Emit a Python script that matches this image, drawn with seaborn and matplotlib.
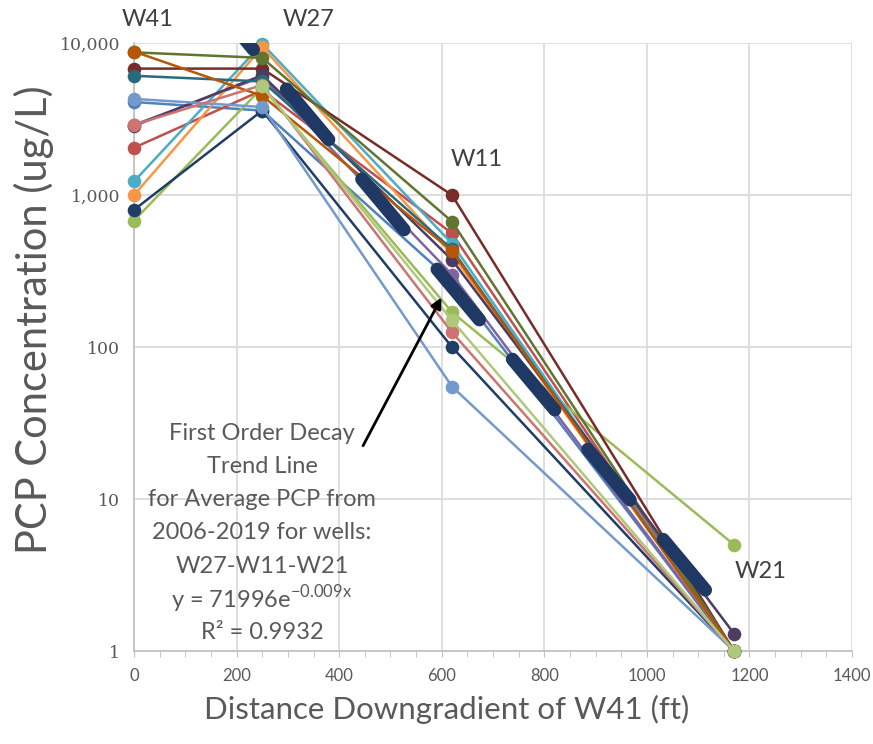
import numpy as np
import pandas as pd
import matplotlib
matplotlib.use('Agg')
import matplotlib.pyplot as plt
import seaborn as sns

# well positions (ft downgradient of W41)
well_x = [0, 250, 620, 1170]
well_names = ['W41', 'W27', 'W11', 'W21']

# PCP (ug/L) per series at W41, W27, W11, W21
series_names = ['s01', 's02', 's03', 's04', 's05', 's06', 's07', 's08',
                's09', 's10', 's11', 's12', 's13', 's14', 's15']
series_colors = ['#4F81BD', '#C0504D', '#9BBB59', '#8064A2', '#4BACC6',
                 '#F79646', '#1F3D66', '#772C2A', '#5F7530', '#4D3B62',
                 '#276A7C', '#B65708', '#729ACA', '#CD7371', '#AFC97A']
s01 = [4100, 3600, 270, 1]
s02 = [2050, 4900, 560, 1]
s03 = [680, 5100, 170, 5]
s04 = [2900, 6000, 300, 1]
s05 = [1230, 9900, 480, 1]
s06 = [1000, 9400, 410, 1]
s07 = [800, 3600, 100, 1]
s08 = [6800, 6800, 1000, 1]
s09 = [8700, 8000, 670, 1]
s10 = [2850, 6150, 375, 1.3]
s11 = [6100, 5600, 440, 1]
s12 = [8800, 4500, 430, 1]
s13 = [4300, 3800, 55, 1]
s14 = [2900, 5300, 125, 1]
s15 = [np.nan, 5200, 150, 1]
series_vals = [s01, s02, s03, s04, s05, s06, s07, s08,
               s09, s10, s11, s12, s13, s14, s15]

# first order decay trend line end points
trend_x = [145, 1115]
trend_y = [20500, 2.5]

# arrow from text to trend line
arrow_from = (444, 21.6)
arrow_to = (602, 220)

note_lines = ['First Order Decay', 'Trend Line', 'for Average PCP from',
              '2006-2019 for wells:', 'W27-W11-W21',
              'y = 71996e$^{\\mathrm{-0.009x}}$', 'R² = 0.9932']

rows = []
for name, vals in zip(series_names, series_vals):
    for x, v in zip(well_x, vals):
        rows.append({'series': name, 'dist': x, 'pcp': v})
df = pd.DataFrame(rows).dropna()

sns.set_style('white')
plt.rcParams['font.family'] = ['Lato', 'DejaVu Sans']
plt.rcParams['mathtext.fontset'] = 'custom'
plt.rcParams['mathtext.rm'] = 'Lato'

fig, ax = plt.subplots(figsize=(8.73, 7.44), dpi=100)
fig.subplots_adjust(left=0.1535, right=0.976, bottom=0.125, top=0.942)

sns.lineplot(data=df, x='dist', y='pcp', hue='series', hue_order=series_names,
             palette=dict(zip(series_names, series_colors)), estimator=None,
             sort=False, marker='o', markersize=9.8, markeredgewidth=0,
             linewidth=1.8, legend=False, ax=ax, clip_on=False, zorder=3)

sns.lineplot(x=trend_x, y=trend_y, color='#1F3864', linewidth=9.5,
             linestyle=(0, (5.0, 3.9)), dash_capstyle='round', ax=ax, zorder=4)

ax.set_yscale('log')
ax.set_xlim(0, 1400)
ax.set_ylim(1, 10000)
ax.set_yticks([1, 10, 100, 1000, 10000])
ax.set_yticklabels(['1', '10', '100', '1,000', '10,000'],
                   fontfamily='DejaVu Serif', fontsize=12.5, color='#595959')
ax.yaxis.set_minor_locator(matplotlib.ticker.NullLocator())
ax.set_xticks(range(0, 1401, 200))
ax.set_xticks(range(0, 1401, 50), minor=True)
ax.set_xticklabels([str(v) for v in range(0, 1401, 200)], fontsize=12, color='#595959')
ax.tick_params(axis='y', length=0, pad=10)
ax.tick_params(axis='x', which='both', length=4, color='#BFBFBF', direction='out', pad=8,
               bottom=True)

ax.grid(True, which='major', color='#D9D9D9', linewidth=1.2)
ax.set_axisbelow(True)
for side in ['top', 'right']:
    ax.spines[side].set_visible(False)
for side in ['left', 'bottom']:
    ax.spines[side].set_color('#BFBFBF')
    ax.spines[side].set_linewidth(1.2)

ax.set_xlabel('Distance Downgradient of W41 (ft)', fontsize=22.5, color='#595959')
ax.set_ylabel('PCP Concentration (ug/L)', fontsize=30, color='#595959')
ax.xaxis.set_label_coords(0.436, -0.073)
ax.yaxis.set_label_coords(-0.112, 0.545)

ax.annotate('', xy=arrow_to, xytext=arrow_from,
            arrowprops=dict(arrowstyle='-|>', color='black', lw=2, mutation_scale=16),
            zorder=6)

W, H = 873, 744
well_label_px = [(148, 19), (309, 19), (477, 160), (761, 572)]
for name, (px, py) in zip(well_names, well_label_px):
    fig.text(px / W, 1 - py / H, name, ha='center', va='center',
             fontsize=17, color='#404040')

for i, line in enumerate(note_lines):
    py = 433 + i * 33.3
    fig.text(262 / W, 1 - py / H, line, ha='center', va='center',
             fontsize=17, color='#595959')

fig.savefig('out.png', dpi=100)
